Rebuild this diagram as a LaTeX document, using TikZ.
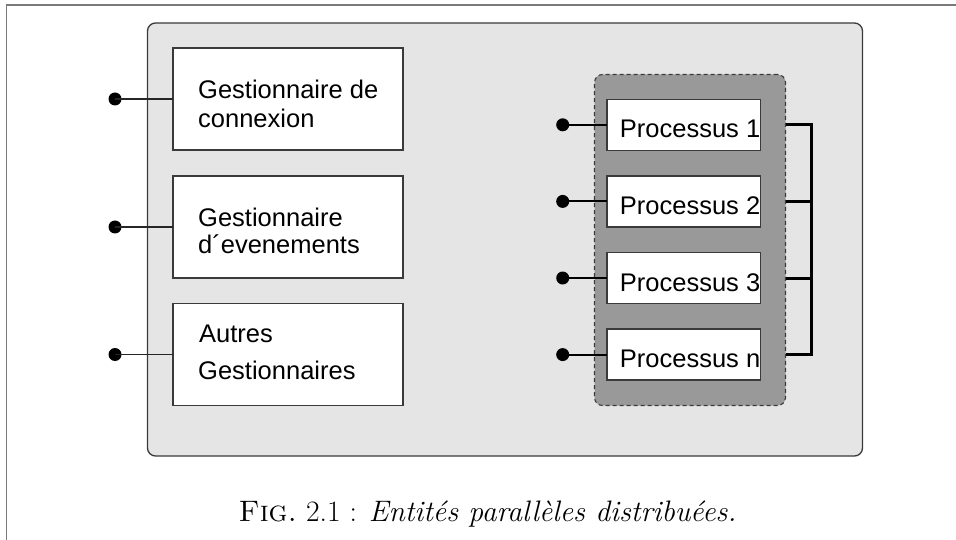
\documentclass[tikz,border=0pt]{standalone}
\usepackage{fontspec}
\newfontfamily\arialf{Liberation Sans}
\definecolor{outerfill}{HTML}{E5E5E5}
\definecolor{grpfill}{HTML}{999999}
\definecolor{framec}{HTML}{7A7A7A}
\definecolor{edgec}{HTML}{3A3A3A}
\tikzset{
  box/.style={draw=edgec, line width=1.3pt, fill=white, rectangle, inner sep=0pt, outer sep=0pt},
  gbox/.style={box, minimum width=230pt, minimum height=102pt},
  pbox/.style={box, minimum width=153.5pt, minimum height=51pt},
  dot/.style={circle, fill=black, inner sep=0pt, minimum size=13pt},
  lab/.style={anchor=base west, inner sep=0pt, font=\arialf\fontsize{25.5}{29}\selectfont},
  conn/.style={draw=black!85, line width=1.3pt},
  pconn/.style={draw=black, line width=2pt},
  bus/.style={draw=black, line width=3pt},
}
\begin{document}
\begin{tikzpicture}[x=1pt,y=-1pt]
\useasboundingbox (0,0) rectangle (956,540);
% page frame
\draw[framec, line width=1.5pt] (6.5,541) -- (6.5,5) -- (957,5);
% outer container
\node[draw=edgec, line width=1.3pt, fill=outerfill, rounded corners=8pt, inner sep=0pt,
      minimum width=715pt, minimum height=433pt] (outer) at (505,239.5) {};
% group of processes
\node[draw=edgec, line width=1.1pt, dash pattern=on 4pt off 3pt, fill=grpfill, rounded corners=8pt,
      inner sep=0pt, minimum width=191pt, minimum height=331pt] (grp) at (690,240) {};
% left boxes
\node[gbox] (g1) at (288,99) {};
\node[gbox] (g2) at (288,227) {};
\node[gbox] (g3) at (288,354.5) {};
\node[lab] (t1a) at (198,99) {Gestionnaire de};
\node[lab] (t1b) at (198,127.7) {connexion};
\node[lab] (t2a) at (198,226.7) {Gestionnaire};
\node[lab] (t2b) at (198,254) {d´evenements};
\node[lab] (t3a) at (199,342.3) {Autres};
\node[lab] (t3b) at (198,379.3) {Gestionnaires};
% left dots
\node[dot] (d1) at (115,99) {};
\node[dot] (d2) at (115,227) {};
\node[dot] (d3) at (115,354.5) {};
\draw[conn] (d1.center) -- (g1.west);
\draw[conn] (d2.center) -- (g2.west);
\draw[conn] (d3.center) -- (g3.west);
% process boxes
\node[pbox] (p1) at (683.75,124.8) {};
\node[pbox] (p2) at (683.75,201.4) {};
\node[pbox] (p3) at (683.75,278) {};
\node[pbox] (pn) at (683.75,354.6) {};
\node[lab] (tp1) at (619.7,137.8) {Processus 1};
\node[lab] (tp2) at (619.7,214.4) {Processus 2};
\node[lab] (tp3) at (619.7,291) {Processus 3};
\node[lab] (tpn) at (619.7,367.6) {Processus n};
% process dots
\node[dot] (q1) at (562.7,124.8) {};
\node[dot] (q2) at (562.7,201.4) {};
\node[dot] (q3) at (562.7,278) {};
\node[dot] (qn) at (562.7,354.6) {};
\draw[pconn] (q1.center) -- (p1.west);
\draw[pconn] (q2.center) -- (p2.west);
\draw[pconn] (q3.center) -- (p3.west);
\draw[pconn] (qn.center) -- (pn.west);
% bus on the right
\coordinate (busx) at (811,0);
\draw[bus] (grp.east |- p1) -- (busx |- p1) -- (busx |- pn) -- (grp.east |- pn);
\draw[bus] (grp.east |- p2) -- (busx |- p2);
\draw[bus] (grp.east |- p3) -- (busx |- p3);
% caption
\node[anchor=base west, inner sep=0pt, font=\fontsize{29.6}{35}\selectfont] (cap) at (238.5,521)
  {\textsc{Fig.}~2.1 : \textit{Entités parallèles distribuées.}};
\end{tikzpicture}
\end{document}
